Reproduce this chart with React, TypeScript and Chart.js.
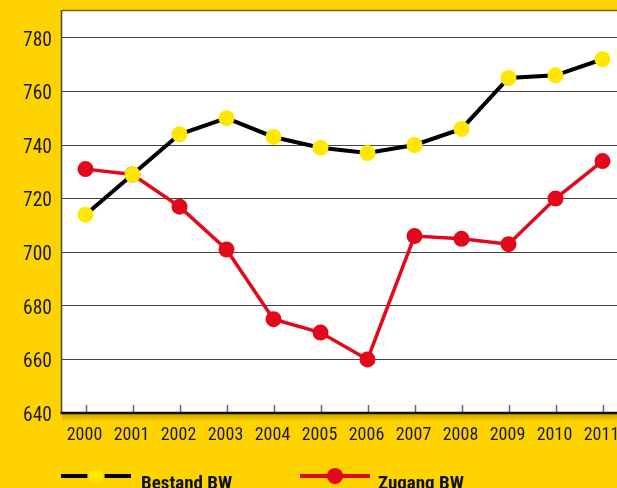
import React, { useEffect, useRef } from "react";
import { Chart, registerables } from "chart.js";

Chart.register(...registerables);

const years = ["2000", "2001", "2002", "2003", "2004", "2005", "2006", "2007", "2008", "2009", "2010", "2011"];
const bestand = [714, 729, 744, 750, 743, 739, 737, 740, 746, 765, 766, 772];
const zugang = [731, 729, 717, 701, 675, 670, 660, 706, 705, 703, 720, 734];
const yTicks = [640, 660, 680, 700, 720, 740, 760, 780];
const seriesNames = ["Bestand BW", "Zugang BW"];

const BG = "#FFD300";
const FONT = "'Roboto Condensed', 'Liberation Sans', sans-serif";

const decorPlugin = {
  id: "decor",
  beforeDraw(chart: any) {
    const { ctx, chartArea: a } = chart;
    ctx.save();
    ctx.fillStyle = "#FFFFFF";
    ctx.fillRect(a.left, a.top, a.right - a.left, a.bottom - a.top);
    ctx.restore();
  },
  beforeDatasetsDraw(chart: any) {
    const { ctx, chartArea: a } = chart;
    const x = chart.scales.x;
    ctx.save();
    const g = ctx.createLinearGradient(0, a.bottom, 0, a.bottom + 9);
    g.addColorStop(0, "rgba(140,100,0,0.45)");
    g.addColorStop(1, "rgba(140,100,0,0)");
    ctx.fillStyle = g;
    ctx.fillRect(a.left, a.bottom, a.right - a.left, 9);
    ctx.strokeStyle = "#7a6a1a";
    ctx.lineWidth = 1.5;
    ctx.beginPath();
    ctx.moveTo(a.left, a.top - 0.5);
    ctx.lineTo(a.right, a.top - 0.5);
    ctx.stroke();
    ctx.strokeStyle = "#4a4a3a";
    ctx.beginPath();
    ctx.moveTo(a.left - 0.5, a.top - 1);
    ctx.lineTo(a.left - 0.5, a.bottom);
    ctx.stroke();
    ctx.strokeStyle = "#666";
    ctx.lineWidth = 1.5;
    x.ticks.forEach((_: any, i: number) => {
      const px = Math.round(x.getPixelForTick(i)) + 0.5;
      ctx.beginPath();
      ctx.moveTo(px, a.bottom - 8);
      ctx.lineTo(px, a.bottom);
      ctx.stroke();
    });
    ctx.strokeStyle = "#111";
    ctx.lineWidth = 2.5;
    ctx.beginPath();
    ctx.moveTo(a.left - 1.5, a.bottom);
    ctx.lineTo(a.right, a.bottom);
    ctx.stroke();
    ctx.restore();
  },
  afterDraw(chart: any) {
    const { ctx } = chart;
    const ds = chart.data.datasets;
    const items = [
      { x0: 61, x1: 131, cx: 96, tx: 141 },
      { x0: 300, x1: 370, cx: 335, tx: 378 },
    ];
    const y = 476;
    ctx.save();
    items.forEach((it, i) => {
      const d = ds[i];
      ctx.strokeStyle = d.borderColor;
      ctx.lineWidth = 4;
      ctx.beginPath();
      ctx.moveTo(it.x0, y);
      ctx.lineTo(it.x1, y);
      ctx.stroke();
      ctx.beginPath();
      ctx.arc(it.cx, y, 8, 0, Math.PI * 2);
      ctx.fillStyle = d.pointBackgroundColor;
      ctx.fill();
      if (i === 0) {
        ctx.strokeStyle = BG;
        ctx.lineWidth = 1.5;
        ctx.stroke();
      }
      ctx.fillStyle = "#111";
      ctx.font = `bold 19px ${FONT}`;
      ctx.textBaseline = "alphabetic";
      ctx.textAlign = "left";
      ctx.fillText(d.label, it.tx, 489);
    });
    ctx.restore();
  },
};

export default function App() {
  const ref = useRef<HTMLCanvasElement | null>(null);
  useEffect(() => {
    if (!ref.current) return;
    const chart = new Chart(ref.current, {
      type: "line",
      data: {
        labels: years,
        datasets: [
          {
            label: seriesNames[0],
            data: bestand,
            borderColor: "#000000",
            borderWidth: 4,
            pointRadius: 8,
            pointHoverRadius: 8,
            pointBorderWidth: 0,
            pointBackgroundColor: "#FFE800",
            pointBorderColor: "#FFE800",
            tension: 0,
          },
          {
            label: seriesNames[1],
            data: zugang,
            borderColor: "#E2091A",
            borderWidth: 3.5,
            pointRadius: 8,
            pointHoverRadius: 8,
            pointBorderWidth: 0,
            pointBackgroundColor: "#E2091A",
            pointBorderColor: "#E2091A",
            tension: 0,
          },
        ],
      },
      options: {
        animation: false,
        responsive: false,
        maintainAspectRatio: false,
        events: [],
        layout: { padding: { top: 11, right: 14, bottom: 0, left: 0 } },
        plugins: { legend: { display: false }, tooltip: { enabled: false } },
        scales: {
          x: {
            type: "category",
            offset: true,
            grid: { display: false, drawTicks: false },
            border: { display: false },
            ticks: {
              color: "#1a1a1a",
              font: { family: FONT, size: 18 },
              padding: 12,
              maxRotation: 0,
              autoSkip: false,
              labelOffset: -1,
            },
            afterFit: (s: any) => {
              s.height = 75;
              s.paddingLeft = 0;
              s.paddingRight = 0;
            },
          },
          y: {
            min: 640,
            max: 790,
            afterBuildTicks: (s: any) => {
              s.ticks = yTicks.map((v) => ({ value: v }));
            },
            grid: { color: "#444444", lineWidth: 1, drawTicks: false },
            border: { display: false },
            ticks: {
              color: "#1a1a1a",
              font: { family: FONT, size: 19.5 },
              padding: 10,
              labelOffset: 3,
            },
            afterFit: (s: any) => {
              s.width = 62;
              s.paddingTop = 0;
              s.paddingBottom = 0;
            },
          },
        },
      },
      plugins: [decorPlugin],
    });
    return () => chart.destroy();
  }, []);
  return (
    <div
      style={{
        position: "fixed",
        left: 0,
        top: 0,
        width: 617,
        height: 488,
        overflow: "hidden",
        background: BG,
      }}
    >
      <canvas ref={ref} width={640} height={488} style={{ display: "block", width: 640, height: 488 }} />
    </div>
  );
}
